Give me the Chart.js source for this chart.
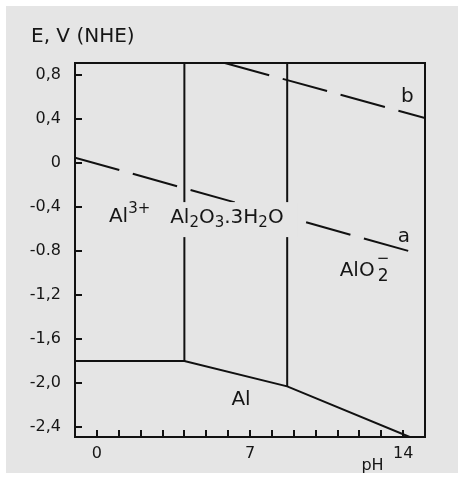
<!DOCTYPE html>
<html>
<head>
<meta charset="utf-8">
<script src="https://cdn.jsdelivr.net/npm/chart.js@4/dist/chart.umd.min.js"></script>
<style>
html,body{margin:0;padding:0;background:#fff;}
#wrap{width:458px;height:477px;position:relative;}
</style>
</head>
<body>
<div id="wrap"><canvas id="c"></canvas></div>
<script>
// ---- data ----
const pHa = [-1, 14.45];          // line a (H2/H2O), dashed
const Ea  = [0.05, -0.81];
const pHb = [5.85, 15];           // line b (O2/H2O), dashed
const Eb  = [0.91, 0.41];
const pHal = [-1, 4, 8.7, 14.3];  // Al boundary
const Eal  = [-1.8, -1.8, -2.03, -2.49];
const pHv1 = [4, 4];              // Al3+ / Al2O3.3H2O boundary
const Ev1  = [-1.8, 0.91];
const pHv2 = [8.7, 8.7];          // Al2O3.3H2O / AlO2- boundary
const Ev2  = [-2.03, 0.91];

const xTicks = [0,1,2,3,4,5,6,7,8,9,10,11,12,13,14];
const xTickLabels = ['0','','','','','','','7','','','','','','','14'];
const yTicks = [0.8,0.4,0,-0.4,-0.8,-1.2,-1.6,-2.0,-2.4];
const yTickLabels = ['0,8','0,4','0','-0,4','-0.8','-1,2','-1,6','-2,0','-2,4'];

const xMin = -1, xMax = 15, yMin = -2.49, yMax = 0.91;

// region / line labels: parts with role n (normal), sub, sup, bar (over previous)
const labels = [
  {pH: 0.55, E: -0.49, parts: [['Al','n'],['3+','sup']]},
  {pH: 3.35, E: -0.50, box: true, parts: [['Al','n'],['2','sub'],['O','n'],['3','sub'],['.3H','n'],['2','sub'],['O','n']]},
  {pH: 13.75, E: -0.67, parts: [['a','n']]},
  {pH: 13.9, E: 0.60, parts: [['b','n']]},
  {pH: 11.1, E: -0.98, parts: [['AlO','n'],['2','sub2'],['\u2212','bar']]},
  {pH: 6.15, E: -2.15, parts: [['Al','n']]}
];

const FONT = '"DejaVu Sans", sans-serif';
const TXT = '#161616';
const BG = '#e5e5e5';

function pts(xs, ys){ return xs.map((x,i)=>({x:x, y:ys[i]})); }

function partFont(r){ return (r==='n' ? '20px ' : (r==='sub2' ? '17px ' : '15px ')) + FONT; }

function measureParts(ctx, parts){
  let w = 0;
  parts.forEach(([t,r])=>{
    if (r==='bar') return;
    ctx.font = partFont(r);
    w += ctx.measureText(t).width;
  });
  return w;
}

function drawParts(ctx, x, y, parts){
  let cx = x, lastX = x, lastW = 0;
  ctx.textBaseline = 'middle';
  ctx.textAlign = 'left';
  ctx.fillStyle = TXT;
  parts.forEach(([t,r])=>{
    if (r==='bar'){
      ctx.font = '15px ' + FONT;
      const w = ctx.measureText(t).width;
      ctx.fillText(t, lastX + (lastW - w)/2, y - 12);
      return;
    }
    let dy = 0;
    ctx.font = partFont(r);
    if (r==='sub') dy = 5;
    else if (r==='sub2') { dy = 6; cx += 3; }
    else if (r==='sup') dy = -8;
    const w = ctx.measureText(t).width;
    ctx.fillText(t, cx, y + dy);
    lastX = cx; lastW = w;
    cx += w;
  });
}

const deco = {
  id: 'deco',
  beforeDraw(chart){
    const c = chart.ctx;
    c.save();
    c.fillStyle = '#fff';
    c.fillRect(0,0,chart.width,chart.height);
    c.fillStyle = BG;
    c.fillRect(6,6,chart.width-6,chart.height-10);
    c.restore();
  },
  afterDatasetsDraw(chart){
    const c = chart.ctx, a = chart.chartArea;
    const xs = chart.scales.x, ys = chart.scales.y;
    c.save();
    // frame
    c.strokeStyle = '#111';
    c.lineWidth = 2;
    c.strokeRect(a.left, a.top, a.right - a.left, a.bottom - a.top);
    // inward ticks
    c.beginPath();
    ys.ticks.forEach(t=>{
      const py = Math.round(ys.getPixelForValue(t.value));
      c.moveTo(a.left, py); c.lineTo(a.left + 7, py);
    });
    xs.ticks.forEach(t=>{
      const px = Math.round(xs.getPixelForValue(t.value));
      c.moveTo(px, a.bottom); c.lineTo(px, a.bottom - 7);
    });
    c.stroke();
    // labels
    labels.forEach(L=>{
      const px = xs.getPixelForValue(L.pH), py = ys.getPixelForValue(L.E);
      if (L.box){
        const w = measureParts(c, L.parts);
        c.fillStyle = BG;
        c.fillRect(px - 6, py - 16, w + 20, 35);
      }
      drawParts(c, px, py, L.parts);
    });
    // axis titles
    c.fillStyle = TXT;
    c.textBaseline = 'middle';
    c.textAlign = 'left';
    c.font = '20px ' + FONT;
    c.fillText('E, V (NHE)', 31, 37);
    c.font = '16px ' + FONT;
    c.textAlign = 'center';
    c.fillText('pH', xs.getPixelForValue(12.6), a.bottom + 29);
    c.restore();
  }
};

const lineStyle = {borderColor:'#111', borderWidth:2, pointRadius:0, showLine:true, fill:false, tension:0};

new Chart(document.getElementById('c'), {
  type: 'scatter',
  data: {
    datasets: [
      Object.assign({data: pts(pHal, Eal)}, lineStyle),
      Object.assign({data: pts(pHv1, Ev1)}, lineStyle),
      Object.assign({data: pts(pHv2, Ev2)}, lineStyle),
      Object.assign({data: pts(pHa, Ea), borderDash:[46,14]}, lineStyle),
      Object.assign({data: pts(pHb, Eb), borderDash:[46,14]}, lineStyle)
    ]
  },
  options: {
    responsive: true,
    maintainAspectRatio: false,
    animation: false,
    events: [],
    layout: {padding: {top: 63, right: 33, left: 0, bottom: 0}},
    plugins: {legend:{display:false}, tooltip:{enabled:false}, title:{display:false}},
    scales: {
      x: {
        type: 'linear', min: xMin, max: xMax,
        afterBuildTicks: s => { s.ticks = xTicks.map(v=>({value:v})); },
        afterFit: s => { s.height = 40; },
        grid: {display:false, drawTicks:false},
        border: {display:false},
        ticks: {
          autoSkip: false, maxRotation: 0, padding: 7,
          color: TXT, font: {family: FONT, size: 16},
          callback: (v) => { const i = xTicks.indexOf(v); return i >= 0 ? xTickLabels[i] : ''; }
        }
      },
      y: {
        type: 'linear', min: yMin, max: yMax,
        afterBuildTicks: s => { s.ticks = yTicks.map(v=>({value:v})); },
        afterFit: s => { s.width = 75; },
        grid: {display:false, drawTicks:false},
        border: {display:false},
        ticks: {
          autoSkip: false, padding: 14,
          color: TXT, font: {family: FONT, size: 16},
          callback: (v) => { const i = yTicks.findIndex(t=>Math.abs(t-v)<1e-9); return i >= 0 ? yTickLabels[i] : ''; }
        }
      }
    }
  },
  plugins: [deco]
});
</script>
</body>
</html>
